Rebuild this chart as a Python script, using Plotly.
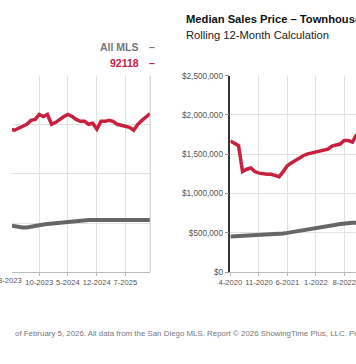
import pandas as pd
import plotly.graph_objects as go

# ---------------- data ----------------
# Left chart (single family, only visible part: 3-2023 .. 1-2026)
left_months = pd.date_range("2023-03-01", "2026-01-01", freq="MS")
left_zip = [2.91, 2.89, 2.93, 2.97, 3.01, 3.09, 3.11, 3.21, 3.17, 3.21,
            3.01, 3.05, 3.11, 3.17, 3.21, 3.17, 3.11, 3.07, 3.07, 3.01,
            3.03, 2.91, 3.07, 3.07, 3.09, 3.07, 3.01, 2.99, 2.97, 2.95,
            2.89, 3.01, 3.09, 3.15, 3.23]
left_all = [0.95, 0.93, 0.91, 0.91, 0.91, 0.93, 0.94, 0.95, 0.97, 0.98,
            0.99, 1.00, 1.01, 1.02, 1.03, 1.04, 1.05, 1.06, 1.06, 1.06,
            1.06, 1.06, 1.06, 1.06, 1.06, 1.06, 1.06, 1.06, 1.06, 1.06,
            1.06, 1.06, 1.06, 1.06, 1.06]
left_zip = [v * 1e6 for v in left_zip]
left_all = [v * 1e6 for v in left_all]

# Right chart (townhouse-condo, visible part: 4-2020 .. 11-2022)
right_months = pd.date_range("2020-04-01", "2022-11-01", freq="MS")
right_zip = [1.67, 1.64, 1.61, 1.28, 1.31, 1.325, 1.28, 1.26, 1.25, 1.245,
             1.245, 1.23, 1.215, 1.28, 1.355, 1.39, 1.425, 1.46, 1.485, 1.505,
             1.515, 1.53, 1.545, 1.555, 1.565, 1.605, 1.615, 1.63, 1.675, 1.675,
             1.655, 1.75]
right_all = [0.455, 0.457, 0.460, 0.463, 0.466, 0.469, 0.472, 0.474, 0.476, 0.478,
             0.480, 0.483, 0.487, 0.493, 0.500, 0.508, 0.515, 0.522, 0.529, 0.536,
             0.543, 0.551, 0.560, 0.570, 0.580, 0.592, 0.603, 0.612, 0.620, 0.625,
             0.628, 0.630]
right_zip = [v * 1e6 for v in right_zip]
right_all = [v * 1e6 for v in right_all]

left_tickvals = ["2023-10-01", "2024-05-01", "2024-12-01", "2025-07-01"]
left_ticktext = ["10-2023", "5-2024", "12-2024", "7-2025"]
right_tickvals = ["2020-04-01", "2020-11-01", "2021-06-01", "2022-01-01", "2022-08-01"]
right_ticktext = ["4-2020", "11-2020", "6-2021", "1-2022", "8-2022"]

RED = "#c8203f"
GRAY = "#666666"
W, H = 356, 364
FONT = "Liberation Sans, Arial"

fig = go.Figure()
fig.add_trace(go.Scatter(x=left_months, y=left_all, mode="lines",
                         line=dict(color=GRAY, width=4), xaxis="x", yaxis="y",
                         showlegend=False))
fig.add_trace(go.Scatter(x=left_months, y=left_zip, mode="lines",
                         line=dict(color=RED, width=3.5), xaxis="x", yaxis="y",
                         showlegend=False))
fig.add_trace(go.Scatter(x=right_months, y=right_all, mode="lines",
                         line=dict(color=GRAY, width=4), xaxis="x2", yaxis="y2",
                         showlegend=False))
fig.add_trace(go.Scatter(x=right_months, y=right_zip, mode="lines",
                         line=dict(color=RED, width=3.5), xaxis="x2", yaxis="y2",
                         showlegend=False))

ydom = [(H - 275) / H, (H - 73.5) / H]
xtickfont = dict(family=FONT, size=7.6, color="#555555")
ytickfont = dict(family=FONT, size=8.2, color="#555555")

fig.update_layout(
    width=W, height=H, margin=dict(l=0, r=0, t=0, b=0),
    paper_bgcolor="white", plot_bgcolor="white",
    xaxis=dict(domain=[0, 143 / W], type="date",
               range=["2023-03-13", "2026-01-01"],
               tickvals=left_tickvals, ticktext=left_ticktext, tickangle=0,
               ticklabeloverflow="allow",
               tickfont=xtickfont, showgrid=True, gridcolor="#e2e2e2",
               showline=True, linecolor="#bbbbbb", ticks="outside",
               ticklen=3, tickcolor="#bbbbbb", zeroline=False),
    yaxis=dict(domain=ydom, range=[0, 4e6], dtick=1e6, showticklabels=False,
               showgrid=True, gridcolor="#e2e2e2", zeroline=False),
    xaxis2=dict(domain=[226 / W, 1], type="date", anchor="y2",
                range=["2020-04-01", "2022-10-28"],
                tickvals=right_tickvals, ticktext=right_ticktext, tickangle=0,
                ticklabeloverflow="allow",
                tickfont=xtickfont, showgrid=True, gridcolor="#e2e2e2",
                showline=True, linecolor="#bbbbbb", ticks="outside",
                ticklen=3, tickcolor="#bbbbbb", zeroline=False),
    yaxis2=dict(domain=ydom, anchor="x2", range=[0, 2.5e6], dtick=5e5,
                tickprefix="$", tickformat=",d", tickfont=ytickfont,
                showgrid=True, gridcolor="#e2e2e2", zeroline=False,
                showline=True, linecolor="#333333", linewidth=1.5,
                ticks="outside", ticklen=4, tickcolor="#999999"),
    font=dict(family=FONT),
)

# right border of left chart
fig.add_shape(type="line", xref="x domain", yref="y domain", x0=1, x1=1, y0=0, y1=1,
              line=dict(color="#c8c8c8", width=1))

ann = []
# partially visible tick label (cut by the left edge, sits at its tick position)
ann.append(dict(text="3-2023", x=-1.7 / W, y=(H - 283) / H, xref="paper", yref="paper",
                xanchor="center", yanchor="middle", showarrow=False, font=xtickfont))
# legend
legfont = dict(family=FONT, size=10.5)
ann.append(dict(text="<b>All MLS</b>", x=134 / W, y=(H - 44.5) / H, xref="paper", yref="paper",
                xanchor="right", yanchor="middle", showarrow=False,
                font=dict(legfont, color="#777777")))
ann.append(dict(text="<b>–</b>", x=140 / W, y=(H - 44.5) / H, xref="paper", yref="paper",
                xanchor="left", yanchor="middle", showarrow=False,
                font=dict(legfont, color="#777777")))
ann.append(dict(text="<b>92118</b>", x=134 / W, y=(H - 60.5) / H, xref="paper", yref="paper",
                xanchor="right", yanchor="middle", showarrow=False,
                font=dict(legfont, color=RED)))
ann.append(dict(text="<b>–</b>", x=140 / W, y=(H - 60.5) / H, xref="paper", yref="paper",
                xanchor="left", yanchor="middle", showarrow=False,
                font=dict(legfont, color=RED)))
# title
ann.append(dict(text="<b>Median Sales Price – Townhouse-Condo</b>", x=178 / W, y=(H - 15) / H,
                xref="paper", yref="paper", xanchor="left", yanchor="middle",
                showarrow=False, font=dict(family=FONT, size=11.2, color="#111111")))
ann.append(dict(text="Rolling 12-Month Calculation", x=178 / W, y=(H - 32) / H,
                xref="paper", yref="paper", xanchor="left", yanchor="middle",
                showarrow=False, font=dict(family=FONT, size=11.2, color="#222222")))
# footer
ann.append(dict(text="of February 5, 2026. All data from the San Diego MLS. Report © 2026 ShowingTime Plus, LLC. Percent changes are calculated using rounded figures.",
                x=1 / W, y=(H - 338) / H, xref="paper", yref="paper", xanchor="left",
                yanchor="middle", showarrow=False,
                font=dict(family=FONT, size=7.9, color="#777777")))
fig.update_layout(annotations=ann)

post = ("document.documentElement.style.margin='0';"
        "document.documentElement.style.padding='0';"
        "document.documentElement.style.overflow='hidden';"
        "document.body.style.margin='0';document.body.style.padding='0';"
        "document.body.style.overflow='hidden';"
        "var d=document.getElementById('{plot_id}');"
        "d.style.position='absolute';d.style.left='0px';d.style.top='0px';")
fig.write_html("out.html", config={"displayModeBar": False}, post_script=post)
